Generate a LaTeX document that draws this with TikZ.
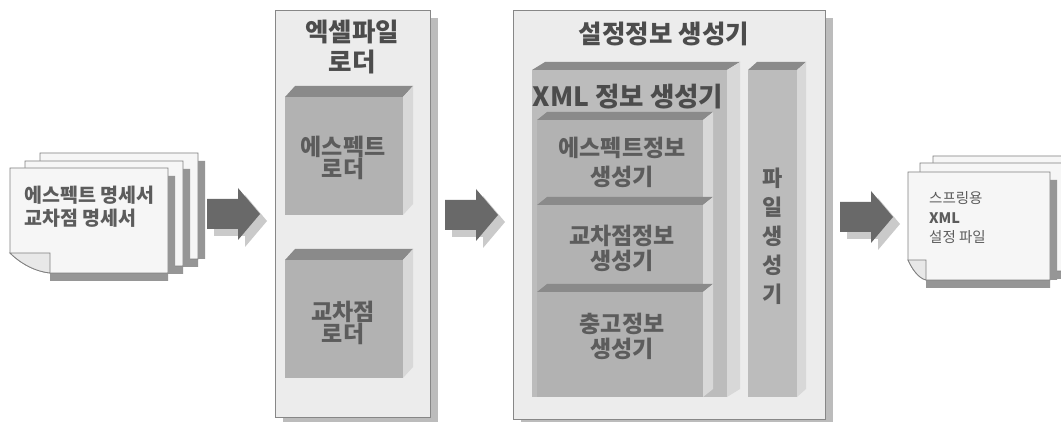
\documentclass[tikz,border=0pt]{standalone}
\usepackage{fontspec}
\setmainfont{Noto Sans CJK KR}
\definecolor{contfill}{RGB}{236,236,236}
\definecolor{contline}{RGB}{135,135,135}
\definecolor{contshadow}{RGB}{188,188,188}
\definecolor{boxfront}{RGB}{178,178,178}
\definecolor{bigfront}{RGB}{188,188,188}
\definecolor{boxtop}{RGB}{138,138,138}
\definecolor{boxside}{RGB}{216,216,216}
\definecolor{txtgray}{RGB}{92,92,92}
\definecolor{ttlgray}{RGB}{76,76,76}
\definecolor{arrowfill}{RGB}{105,105,105}
\definecolor{arrowshadow}{RGB}{202,202,202}
\definecolor{pagefill}{RGB}{246,246,246}
\definecolor{pageline}{RGB}{128,128,128}
\definecolor{pageshadow}{RGB}{150,150,150}
\definecolor{flapfill}{RGB}{232,232,232}
% 3D box: name, x, y (front top-left), width, height, dx, dy, front colour
\newcommand\mkcube[8]{%
  \node[fill=#8, anchor=north west, minimum width=#4pt, minimum height=#5pt,
        inner sep=0pt, outer sep=0pt] (#1) at (#2,#3) {};
  \fill[boxtop] (#1.north west) -- ++(#6,-#7) -- ([shift={(#6,-#7)}]#1.north east)
     -- (#1.north east) -- cycle;
  \fill[boxside] (#1.north east) -- ++(#6,-#7) -- ([shift={(#6,-#7)}]#1.south east)
     -- (#1.south east) -- cycle;
}
% page with folded bottom-left corner: x1,y1,x2,y2,foldw,foldh
\newcommand\mkpage[6]{%
  \fill[pageshadow] ({#1+#5},{#4}) -- ({#3+7},{#4}) -- ({#3+7},{#2+8}) -- ({#3},{#2+8})
     -- ({#3},{#4+8}) -- ({#1+#5},{#4+8}) -- cycle;
  \draw[page] (#1,#2) -- (#3,#2) -- (#3,#4) -- ({#1+#5},#4)
     .. controls ({#1+0.55*#5},{#4-0.1*#6}) and ({#1+0.2*#5},{#4-0.6*#6}) .. (#1,{#4-#6}) -- cycle;
  \draw[page, fill=flapfill] (#1,{#4-#6}) -- ({#1+#5},{#4-#6}) -- ({#1+#5},#4)
     .. controls ({#1+0.55*#5},{#4-0.1*#6}) and ({#1+0.2*#5},{#4-0.6*#6}) .. (#1,{#4-#6}) -- cycle;
}
% block arrow: x0 (body start), yc (axis)
\newcommand\mkarrow[3]{%
  \coordinate (#1) at (#2,#3);
  \fill[arrowshadow] ([shift={(7,7)}]#1) ++(0,-15) -- ++(31,0) -- ++(0,-11) -- ++(22,26)
     -- ++(-22,26) -- ++(0,-11) -- ++(-31,0) -- cycle;
  \fill[arrowfill] (#1) ++(0,-15) -- ++(31,0) -- ++(0,-11) -- ++(22,26)
     -- ++(-22,26) -- ++(0,-11) -- ++(-31,0) -- cycle;
}
\begin{document}
\begin{tikzpicture}[x=1pt,y=-1pt,
  page/.style={fill=pagefill, draw=pageline, line width=0.8pt, line join=miter},
  container/.style={fill=contfill, draw=contline, line width=1pt},
  lbl/.style={text=txtgray, font=\bfseries\fontsize{23}{22}\selectfont, align=center, inner sep=0pt},
  ttl/.style={text=ttlgray, font=\bfseries\fontsize{25.5}{30}\selectfont, align=center, inner sep=0pt},
  doctext/.style={text=txtgray, align=left, inner sep=0pt, anchor=west}]
\path[use as bounding box] (0,0) rectangle (1061,422);
\fill[white] (0,0) rectangle (1061,422);
\begin{scope}
\clip (0,0) rectangle (1061,422);

% ---------- left document stack ----------
\mkpage{40}{153}{198}{259}{40}{20}
\mkpage{25}{161}{183}{266}{40}{20}
\mkpage{10}{168}{168}{273}{40}{20}
\node[doctext, font=\bfseries\fontsize{19.5}{23}\selectfont] (spec) at (24,207)
  {에스펙트 명세서\\교차점 명세서};

% ---------- arrow 1 ----------
\mkarrow{a1}{207}{214}

% ---------- container 1 : excel loader ----------
\fill[contshadow] (283,18) rectangle (438,422);
\node[container, anchor=north west, minimum width=155pt, minimum height=407pt,
      inner sep=0pt] (excel) at (275,10) {};
\node[ttl] (excelt) at (352,47) {엑셀파일\\로더};
\mkcube{ldr1}{285}{97}{118}{118}{10}{11}{boxfront}
\node[lbl] (ldr1t) at (343,158) {에스펙트\\로더};
\mkcube{ldr2}{285}{260}{118}{118}{10}{11}{boxfront}
\node[lbl] (ldr2t) at (343,323) {교차점\\로더};

% ---------- arrow 2 ----------
\mkarrow{a2}{445}{215}

% ---------- container 2 : config generator ----------
\fill[contshadow] (521,18) rectangle (833,422);
\node[container, anchor=north west, minimum width=312pt, minimum height=409pt,
      inner sep=0pt] (conf) at (513,10) {};
\node[ttl] (conft) at (664,34) {설정정보 생성기};
\mkcube{xml}{532}{70}{195}{327}{13}{8}{bigfront}
\node[ttl, font=\bfseries\fontsize{26.5}{26}\selectfont] (xmlt) at (628,97) {XML 정보 생성기};
\mkcube{genA}{537}{120}{166}{85}{10}{8}{boxfront}
\node[lbl, font=\bfseries\fontsize{23}{29}\selectfont] (genAt) at (622,162) {에스펙트정보\\생성기};
\mkcube{genB}{537}{205}{166}{87}{10}{8}{boxfront}
\node[lbl, font=\bfseries\fontsize{23}{25}\selectfont] (genBt) at (622,248) {교차점정보\\생성기};
\mkcube{genC}{537}{292}{166}{105}{10}{8}{boxfront}
\node[lbl, font=\bfseries\fontsize{23}{25}\selectfont] (genCt) at (622,336) {충고정보\\생성기};
\mkcube{file}{748}{70}{49}{327}{9}{8}{bigfront}
\node[lbl, font=\bfseries\fontsize{22}{29}\selectfont] (filet) at (773,236) {파\\일\\생\\성\\기};

% ---------- arrow 3 ----------
\mkarrow{a3}{840}{217}

% ---------- right document stack ----------
\mkpage{933}{156}{1075}{264}{18}{20}
\mkpage{920}{163}{1062}{271}{18}{20}
\mkpage{908}{172}{1050}{280}{18}{20}
\node[doctext, font=\fontsize{14.5}{19.5}\selectfont] (xmlfile) at (929,218)
  {스프링용\\\textbf{XML}\\설정 파일};
\end{scope}
\end{tikzpicture}
\end{document}
